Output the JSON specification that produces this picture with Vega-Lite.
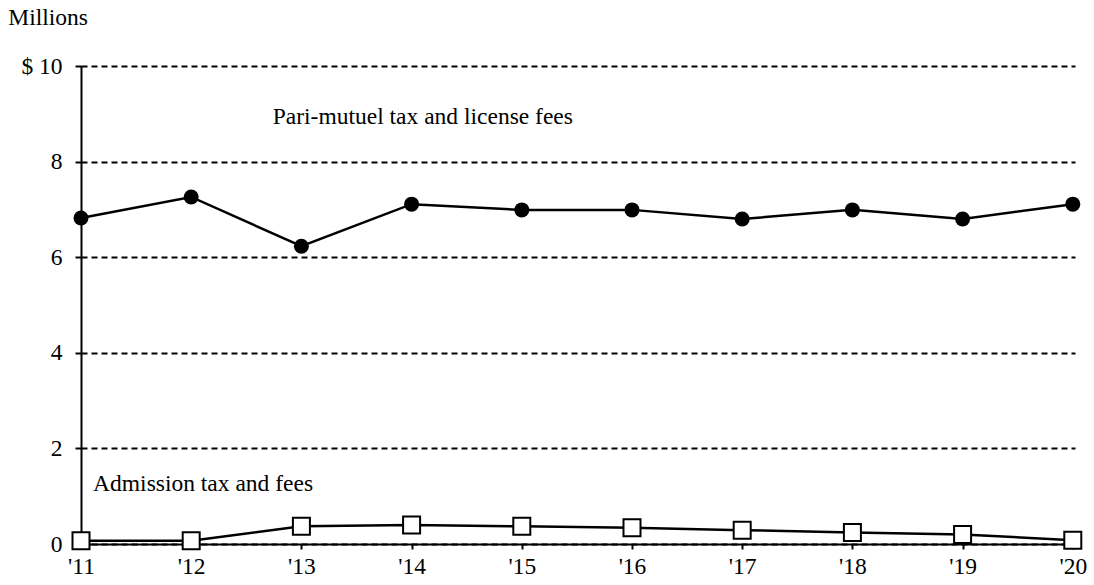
{
  "$schema": "https://vega.github.io/schema/vega-lite/v6.json",
  "width": 994,
  "height": 478,
  "autosize": {"type": "none"},
  "padding": {"left": 81, "top": 66, "right": 19, "bottom": 41},
  "background": "white",
  "config": {
    "view": {"stroke": null},
    "font": "Times New Roman",
    "axis": {"labelFont": "Times New Roman", "labelFontSize": 23.5, "labelColor": "black", "titleFont": "Times New Roman"},
    "text": {"font": "Times New Roman"}
  },
  "datasets": {
    "series": [
      {"year": 2011, "series": "Pari-mutuel", "value": 6.82},
      {"year": 2012, "series": "Pari-mutuel", "value": 7.26},
      {"year": 2013, "series": "Pari-mutuel", "value": 6.23},
      {"year": 2014, "series": "Pari-mutuel", "value": 7.11},
      {"year": 2015, "series": "Pari-mutuel", "value": 6.99},
      {"year": 2016, "series": "Pari-mutuel", "value": 6.99},
      {"year": 2017, "series": "Pari-mutuel", "value": 6.80},
      {"year": 2018, "series": "Pari-mutuel", "value": 6.99},
      {"year": 2019, "series": "Pari-mutuel", "value": 6.80},
      {"year": 2020, "series": "Pari-mutuel", "value": 7.11},
      {"year": 2011, "series": "Admission", "value": 0.07},
      {"year": 2012, "series": "Admission", "value": 0.07},
      {"year": 2013, "series": "Admission", "value": 0.37},
      {"year": 2014, "series": "Admission", "value": 0.40},
      {"year": 2015, "series": "Admission", "value": 0.37},
      {"year": 2016, "series": "Admission", "value": 0.34},
      {"year": 2017, "series": "Admission", "value": 0.29},
      {"year": 2018, "series": "Admission", "value": 0.24},
      {"year": 2019, "series": "Admission", "value": 0.20},
      {"year": 2020, "series": "Admission", "value": 0.08}
    ],
    "labels": [
      {"year": 2012.74, "value": 8.93, "text": "Pari-mutuel tax and license fees"},
      {"year": 2011.11, "value": 1.26, "text": "Admission tax and fees"},
      {"year": 2010.34, "value": 11.0, "text": "Millions"}
    ]
  },
  "layer": [
    {
      "data": {"name": "series"},
      "mark": {"type": "line", "color": "black", "strokeWidth": 2.5},
      "encoding": {
        "x": {"field": "year", "type": "quantitative", "scale": {"domain": [2011, 2020.02], "nice": false, "zero": false},
          "axis": {"values": [2011,2012,2013,2014,2015,2016,2017,2018,2019,2020], "title": null, "grid": false, "domain": true, "domainColor": "black", "domainWidth": 2, "tickColor": "black", "tickSize": 5, "tickWidth": 2, "labelExpr": "\"'\" + slice(toString(datum.value), 2)", "labelPadding": 5, "labelFlush": false}},
        "y": {"field": "value", "type": "quantitative", "scale": {"domain": [0, 10], "nice": false},
          "axis": {"values": [0,2,4,6,8,10], "title": null, "grid": true, "gridColor": "black", "gridDash": [6,4], "gridWidth": 2, "gridOpacity": 1, "domainColor": "black", "domainWidth": 2, "tickColor": "black", "tickSize": 6, "tickWidth": 2, "labelPadding": 13, "labelExpr": "datum.value == 10 ? '$ 10' : datum.label"}},
        "detail": {"field": "series"}
      }
    },
    {
      "data": {"name": "series"},
      "transform": [{"filter": "datum.series == 'Pari-mutuel'"}],
      "mark": {"type": "point", "shape": "circle", "filled": true, "color": "black", "size": 225, "opacity": 1},
      "encoding": {"x": {"field": "year", "type": "quantitative"}, "y": {"field": "value", "type": "quantitative"}}
    },
    {
      "data": {"name": "series"},
      "transform": [{"filter": "datum.series == 'Admission'"}],
      "mark": {"type": "point", "shape": "square", "filled": true, "fill": "white", "stroke": "black", "strokeWidth": 2, "size": 289, "opacity": 1},
      "encoding": {"x": {"field": "year", "type": "quantitative"}, "y": {"field": "value", "type": "quantitative"}}
    },
    {
      "data": {"name": "labels"},
      "mark": {"type": "text", "align": "left", "baseline": "middle", "fontSize": 23.5, "color": "black", "font": "Times New Roman", "clip": false},
      "encoding": {"x": {"field": "year", "type": "quantitative"}, "y": {"field": "value", "type": "quantitative"}, "text": {"field": "text"}}
    }
  ]
}
